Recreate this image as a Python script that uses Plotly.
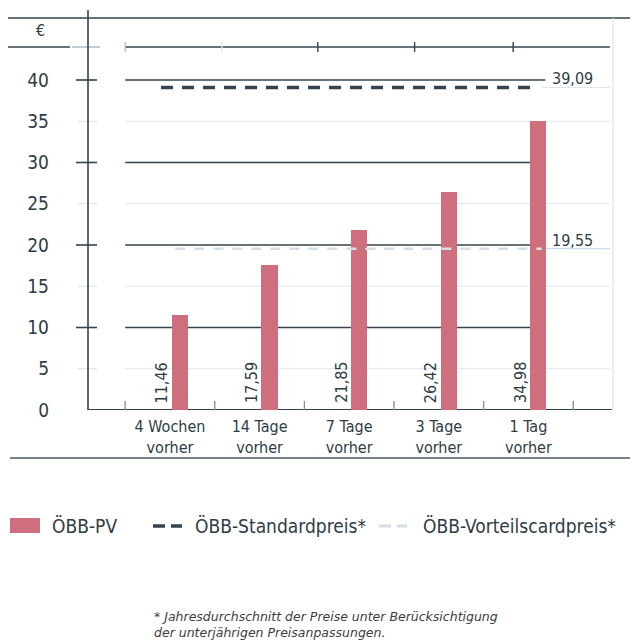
import plotly.graph_objects as go

# Price data (EUR)
categories = ["4 Wochen<br>vorher", "14 Tage<br>vorher", "7 Tage<br>vorher", "3 Tage<br>vorher", "1 Tag<br>vorher"]
pv_prices = [11.46, 17.59, 21.85, 26.42, 34.98]
standard_price = 39.09
vorteilscard_price = 19.55
y_ticks = [0, 5, 10, 15, 20, 25, 30, 35, 40]

FONT = "Liberation Sans Narrow, DejaVu Sans Condensed, Arial Narrow, sans-serif"
DARK = "#34434d"
TEXT = "#2f3c45"
LIGHT = "#dde6ee"
BAR = "#cf6f7e"

W, H = 630, 643
L, R, T, B = 88, 18, 18, 233
PW, PH = W - L - R, H - T - B
X0, X1 = -0.915, 4.933
Y1 = PH / 8.25

def px_x(px):
    return (px - L) / PW

def px_y(py):
    return (H - B - py) / PH

def fmt(v):
    return f"{v:.2f}".replace(".", ",")

xs = list(range(len(categories)))
bar_x = [i + 0.11 for i in xs]

fig = go.Figure()

fig.add_trace(go.Bar(
    x=bar_x, y=pv_prices, width=0.18, marker=dict(color=BAR, line=dict(width=0)),
    name="ÖBB-PV", showlegend=False, hoverinfo="y",
))
fig.add_trace(go.Scatter(
    x=[-0.1, 4.08], y=[standard_price] * 2, mode="lines",
    line=dict(color=DARK, width=3.5, dash="12px,9px"),
    name="ÖBB-Standardpreis*", showlegend=False,
))
fig.add_trace(go.Scatter(
    x=[0.06, 4.15], y=[vorteilscard_price] * 2, mode="lines",
    line=dict(color="#d3dee6", width=2.5, dash="10px,9px"),
    name="ÖBB-Vorteilscardpreis*", showlegend=False,
))

shapes = []

def hline(x0, x1, y, color, width=1.5, xref="x", yref="y", layer="below"):
    shapes.append(dict(type="line", xref=xref, yref=yref, x0=x0, x1=x1, y0=y, y1=y,
                       line=dict(color=color, width=width), layer=layer))

def vline(x, y0, y1, color, width=1.5, xref="x", yref="y", layer="below"):
    shapes.append(dict(type="line", xref=xref, yref=yref, x0=x, x1=x, y0=y0, y1=y1,
                       line=dict(color=color, width=width), layer=layer))

# grid: strong at multiples of 10, faint in between
for v in y_ticks[1:]:
    if v % 10 == 0:
        hline(-0.5, 4.19 if v == 40 else 4.02, v, DARK, 1.6)
        hline(px_x(76), px_x(97), v, DARK, 1.6, xref="paper")
    else:
        hline(-0.5, 4.91, v, LIGHT, 1.2)
        hline(px_x(78), px_x(97), v, LIGHT, 1.2, xref="paper")

# faint extension lines towards the value labels
hline(4.15, 4.91, standard_price, LIGHT, 1.2)
hline(4.15, 4.91, vorteilscard_price, "#c9dbe8", 1.2)

# frame lines
hline(px_x(8), px_x(630), 1.0, DARK, 1.6, xref="paper", yref="paper")
hline(px_x(8), px_x(70), 44.0, DARK, 1.6, xref="paper")
hline(px_x(72), px_x(100), 44.0, "#aab8c2", 1.4, xref="paper")
hline(-0.5, 4.91, 44.0, DARK, 1.6)
for tx, col in [(-0.5, "#b8c4cc"), (0.58, LIGHT), (1.65, DARK), (2.73, DARK), (3.83, DARK)]:
    vline(tx, 43.4, 44.6, col, 1.4)
vline(px_x(88), px_y(410), px_y(10), DARK, 1.6, xref="paper", yref="paper")
vline(px_x(613), px_y(410), px_y(18), "#dbe4ec", 1.2, xref="paper", yref="paper")
hline(px_x(88), px_x(612), 0, DARK, 1.8, xref="paper")
for b in [-0.5, 0.5, 1.5, 2.5, 3.5, 4.5]:
    vline(b, 0, 1.1, "#7f8d97", 1.3)
hline(px_x(10), px_x(630), px_y(458), "#4a5862", 1.6, xref="paper", yref="paper")

annotations = []

# value labels, rotated, left of each bar
for i, v in zip(xs, pv_prices):
    annotations.append(dict(x=i - 0.09, y=0.6, text=fmt(v), textangle=-90, showarrow=False,
                            xanchor="center", yanchor="bottom",
                            font=dict(family=FONT, size=16, color=TEXT)))

annotations.append(dict(x=4.49, y=40.2, text=fmt(standard_price), showarrow=False,
                        xanchor="center", yanchor="middle",
                        font=dict(family=FONT, size=16, color=TEXT)))
annotations.append(dict(x=4.49, y=20.6, text=fmt(vorteilscard_price), showarrow=False,
                        xanchor="center", yanchor="middle",
                        font=dict(family=FONT, size=16, color=TEXT)))

# unit
annotations.append(dict(xref="paper", yref="paper", x=px_x(40), y=px_y(30), text="€",
                        xanchor="center", yanchor="middle",
                        showarrow=False, font=dict(family=FONT, size=16, color=TEXT)))

# legend
shapes.append(dict(type="rect", xref="paper", yref="paper", x0=px_x(10), x1=px_x(40),
                   y0=px_y(533), y1=px_y(518), fillcolor=BAR, line=dict(width=0)))
for a, b in [(153, 165), (171, 182)]:
    hline(px_x(a), px_x(b), px_y(526), DARK, 3.5, xref="paper", yref="paper", layer="above")
for a, b in [(379, 391), (397, 407)]:
    hline(px_x(a), px_x(b), px_y(526), "#d3dee6", 3, xref="paper", yref="paper", layer="above")
for x_px, label in [(50, "ÖBB-PV"), (193, "ÖBB-Standardpreis*"), (421, "ÖBB-Vorteilscardpreis*")]:
    annotations.append(dict(xref="paper", yref="paper", x=px_x(x_px), y=px_y(526), text=label,
                            xanchor="left", yanchor="middle", showarrow=False,
                            font=dict(family=FONT, size=19, color=TEXT)))

# footnote
for y_px, line in [(617, "* Jahresdurchschnitt der Preise unter Berücksichtigung"),
                   (632, "der unterjährigen Preisanpassungen.")]:
    annotations.append(dict(xref="paper", yref="paper", x=px_x(152), y=px_y(y_px), xanchor="left",
                            yanchor="middle", align="left", showarrow=False,
                            text=f"<i>{line}</i>",
                            font=dict(family="DejaVu Sans, sans-serif", size=12.5, color="#3d3d3d")))

fig.update_layout(
    width=W, height=H, margin=dict(l=L, r=R, t=T, b=B, pad=0),
    paper_bgcolor="white", plot_bgcolor="white",
    shapes=shapes, annotations=annotations, showlegend=False, bargap=0,
    xaxis=dict(range=[X0, X1], tickvals=xs, ticktext=categories, showgrid=False, zeroline=False,
               showline=False, ticks="", ticklabelstandoff=5,
               tickfont=dict(family=FONT, size=16, color=TEXT)),
    yaxis=dict(range=[0, Y1], tickvals=y_ticks, showgrid=False, zeroline=False, showline=False,
               ticks="", ticklabelstandoff=38, tickfont=dict(family=FONT, size=19, color=TEXT)),
)

fig.write_html("out.html")
